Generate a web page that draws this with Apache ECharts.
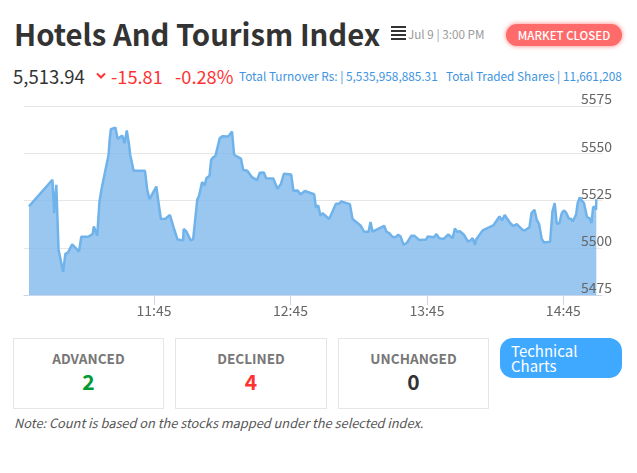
<!DOCTYPE html>
<html>
<head>
<meta charset="utf-8">
<title>Hotels And Tourism Index</title>
<script src="https://cdn.jsdelivr.net/npm/echarts@6/dist/echarts.min.js"></script>
<style>
html, body { margin: 0; padding: 0; background: #fff; }
body { width: 637px; height: 473px; position: relative; overflow: hidden; font-family: "Noto Sans CJK SC", "Noto Sans", sans-serif; }
.t { position: absolute; white-space: nowrap; line-height: 1; }
.box { position: absolute; top: 338px; width: 149px; height: 69px; border: 1px solid #e6e6e6; text-align: center; }
.box .lab { position: absolute; left: 0; right: 0; top: 11px; font-size: 13.6px; line-height: 16px; font-weight: 700; color: #777; }
.box .num { position: absolute; left: 0; right: 0; top: 30px; font-size: 21px; line-height: 24px; font-weight: 700; }
#menu { position: absolute; left: 391px; top: 26px; width: 15px; }
#menu i { display: block; height: 2px; background: #333; margin-bottom: 2px; }
#chart { position: absolute; left: 0; top: 90px; width: 637px; height: 235px; }
</style>
</head>
<body>
<div class="t" style="left:14px;top:19px;font-size:29.3px;font-weight:700;color:#333">Hotels And Tourism Index</div>
<div id="menu"><i></i><i></i><i></i><i></i></div>
<div class="t" style="left:408px;top:28px;font-size:11.7px;color:#999">Jul 9 | 3:00 PM</div>
<div class="t" style="left:506px;top:24px;width:116px;height:22px;line-height:22px;border-radius:11px;background:#ff6b6b;box-shadow:0 0 5px #ff8080;color:#fff;font-size:11.5px;font-weight:500;text-align:center">MARKET CLOSED</div>

<div class="t" style="left:13px;top:67px;font-size:18.5px;color:#333">5,513.94</div>
<svg style="position:absolute;left:96px;top:72px" width="10" height="8"><path d="M1 1.5 L5 5.5 L9 1.5" fill="none" stroke="#ff3333" stroke-width="2"/></svg>
<div class="t" style="left:111px;top:67px;font-size:18.2px;color:#ff3333">-15.81</div>
<div class="t" style="left:175px;top:67px;font-size:18.2px;color:#ff3333">-0.28%</div>
<div class="t" style="left:239px;top:70px;font-size:11.8px;color:#3d94e0">Total Turnover Rs: | 5,535,958,885.31</div>
<div class="t" style="left:446px;top:70px;font-size:11.8px;color:#3d94e0">Total Traded Shares | 11,661,208</div>

<div id="chart"></div>

<div class="box" style="left:13px"><div class="lab">ADVANCED</div><div class="num" style="color:#009933">2</div></div>
<div class="box" style="left:175px;width:150px"><div class="lab">DECLINED</div><div class="num" style="color:#ff3333">4</div></div>
<div class="box" style="left:338px"><div class="lab">UNCHANGED</div><div class="num" style="color:#333">0</div></div>
<div class="t" style="left:500px;top:338px;width:111px;height:40px;padding-left:11px;border-radius:13px;background:#3fa9ff;color:#fff;font-size:15px"><div style="line-height:15px;padding-top:5px">Technical<br>Charts</div></div>
<div class="t" style="left:14px;top:417px;font-size:12.8px;font-style:italic;color:#555">Note: Count is based on the stocks mapped under the selected index.</div>

<script>
// minutes since midnight
var times = [650,660.3,661.1,662,663,665,666,667,669,672,673,676,678,678.5,680,681,682,685,685.5,686,688,689,691,692,693,694,694.5,696,701,702,703,706,707,708,710,712,713.7,714.4,715.3,717.8,718,719.2,721.1,722.2,724,724.8,726.1,727.3,728,729.4,730.1,731,732,733.9,735,737.6,738.3,739.3,740.2,743.2,744.2,746,748,750.3,751.5,753.3,754.3,757.4,759.3,760.8,762.1,765.3,766.3,768.2,769.4,771.3,775.4,776.2,777.2,778.2,779.1,782,785,786.4,787.3,791.1,792.3,795.8,797.3,799.3,800.2,801.1,806.2,807.2,808.4,809.9,811.4,812.4,813.4,814.7,816.3,818.2,819.4,821.6,824.8,825.3,828.1,829.2,830.4,832.2,834.4,836.3,837.3,838.2,839.5,841.3,843,844,845.1,846.2,846.6,849.5,854.2,856.9,858,859.2,861.6,863,864.5,867.1,868.2,870.1,871,872.3,873.3,874.3,875.5,876.5,879.2,880.2,881.2,882.1,883.3,884.3,885.2,886.2,887.4,888.4,889.1,890.6,891.2,891.3,892.2,893.1,894.1,895.4,896.5,897.4,898.1,899,899.4,899.5];
var values = [5521.9,5536,5518.3,5533.3,5499,5487.2,5496.8,5497.2,5501.8,5498,5505.8,5505.8,5507.2,5511.3,5506.4,5524.5,5531.6,5549.2,5557.5,5562.7,5563.6,5557.6,5559.4,5555.3,5562,5554.5,5549.2,5540.7,5540.7,5530.7,5525.7,5532.4,5523.6,5515.2,5515.3,5517.3,5510.4,5510.2,5504.4,5503.9,5509.9,5508.6,5503.9,5504.6,5525.4,5527.5,5534.7,5533,5536.8,5538.1,5546.5,5547.8,5548.6,5558,5559,5558.9,5558,5561.5,5549.2,5547.2,5541.2,5540.7,5537.4,5535.8,5539.7,5539.8,5536.8,5536.7,5531.2,5533.8,5539.1,5538.8,5530.1,5530.3,5528.2,5530,5528.4,5521.2,5522.4,5516.9,5518.3,5515.2,5523.3,5523.3,5524.5,5523.1,5515.2,5511.8,5508.6,5508.3,5513.6,5508.5,5511.6,5508.5,5507.8,5505.7,5505.7,5506.9,5506,5501.6,5502.8,5506.4,5506.4,5504.1,5504.4,5506,5505.5,5507.2,5505.1,5504.6,5507.1,5505.1,5510.2,5508.5,5508.7,5506.9,5503.4,5503.7,5505.1,5501.6,5504.2,5509.2,5511.8,5516.6,5514.5,5517.3,5513.1,5511.5,5512.5,5509.4,5509.2,5510.9,5518.3,5520.1,5514.8,5512.7,5504.6,5502.8,5503.2,5519.2,5523.6,5512.7,5513.1,5518.3,5519.7,5518.7,5515.5,5515.3,5513.9,5517.5,5518,5523.6,5526.6,5524.9,5523.6,5516.2,5515.7,5513.1,5521.5,5521.5,5520.1,5525.7];
var tickMinutes = [705,765,825,885];
var tickLabels = ['11:45','12:45','13:45','14:45'];
var yMin = 5475, yMax = 5575, yStep = 25;

initChart();

/**
 * draw the index area chart
 */
function initChart() {
    var myChart = echarts.init(document.getElementById('chart'));
    var points = times.map(function (t, i) { return [t, values[i]]; });
    var option = {
        animation: false,
        textStyle: { fontFamily: '"Noto Sans CJK SC", "Noto Sans", sans-serif' },
        grid: { left: 24, right: 35, top: 16, bottom: 30 },
        xAxis: {
            type: 'value',
            min: 647.8,
            max: 902,
            splitLine: { show: false },
            axisLine: { lineStyle: { color: '#ccd6eb', width: 1 } },
            axisTick: { customValues: tickMinutes, length: 10, lineStyle: { color: '#ccd6eb' } },
            axisLabel: {
                customValues: tickMinutes,
                color: '#666',
                fontSize: 14,
                margin: 9,
                formatter: function (v) { return tickLabels[tickMinutes.indexOf(v)]; }
            }
        },
        yAxis: [{
            // grid lines, stay under the area
            type: 'value',
            position: 'right',
            min: yMin,
            max: yMax,
            interval: yStep,
            axisLine: { show: false },
            axisTick: { show: false },
            axisLabel: { show: false },
            splitLine: { lineStyle: { color: '#e6e6e6', width: 1 } }
        }, {
            // labels, drawn over the area
            type: 'value',
            position: 'right',
            z: 5,
            min: yMin,
            max: yMax,
            interval: yStep,
            axisLine: { show: false },
            axisTick: { show: false },
            splitLine: { show: false },
            axisLabel: {
                color: '#666',
                fontSize: 14,
                margin: -21,
                align: 'left',
                verticalAlign: 'bottom',
                lineHeight: 14,
                formatter: function (v) { return String(v); }
            }
        }],
        series: [{
            type: 'line',
            yAxisIndex: 0,
            data: points,
            symbol: 'none',
            lineStyle: { color: '#6fb3ea', width: 2.5 },
            itemStyle: { color: '#6fb3ea' },
            areaStyle: { color: '#7fb9ec', opacity: 0.8 }
        }]
    };
    myChart.setOption(option);
}
</script>
</body>
</html>
